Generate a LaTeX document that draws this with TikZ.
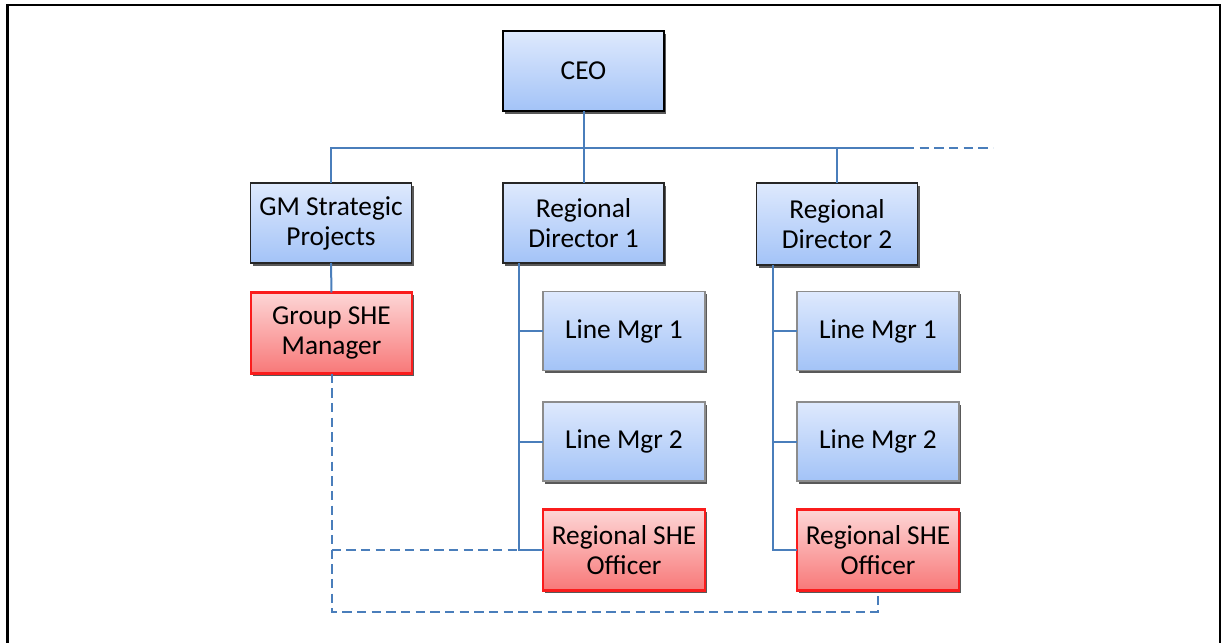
\documentclass[tikz,border=0pt]{standalone}
\usepackage{fontspec}
\setmainfont{Carlito}
\usetikzlibrary{shadows}
\definecolor{bluetop}{RGB}{222,233,253}
\definecolor{bluebot}{RGB}{163,195,247}
\definecolor{redtop}{RGB}{253,214,214}
\definecolor{redbot}{RGB}{248,120,120}
\definecolor{redline}{RGB}{250,28,28}
\definecolor{conn}{RGB}{74,126,187}
\tikzset{
  box/.style={rectangle, inner sep=0pt, outer sep=0pt, align=center,
    minimum width=120.75pt, minimum height=60pt,
    font=\fontsize{20.5}{22.5}\selectfont,
    drop shadow={shadow xshift=1.5pt, shadow yshift=-2pt, fill=black!65, opacity=1}},
  bluebox/.style={box, top color=bluetop, bottom color=bluebot, draw=black!85, line width=0.9pt},
  ceobox/.style={bluebox, line width=2pt, draw=black},
  mgrbox/.style={box, top color=bluetop, bottom color=bluebot, draw=black!45, line width=0.9pt},
  redbox/.style={box, top color=redtop, bottom color=redbot, draw=redline, line width=1.8pt},
  conline/.style={draw=conn, line width=1.5pt},
  dashline/.style={draw=conn, line width=1.5pt, dash pattern=on 7pt off 4pt},
  frame/.style={draw=black, line width=1.6pt}
}
\begin{document}
\begin{tikzpicture}[x=0.75pt, y=-0.75pt]
\useasboundingbox (0,0) rectangle (1229,643);
\draw[frame] (7.5,650) -- (7.5,5) -- (1220,5) -- (1220,650);

\node[ceobox] (ceo) at (583.5,71) {CEO};
\node[bluebox] (gm) at (331,223) {GM Strategic\\Projects};
\node[bluebox] (rd1) at (583.5,223) {Regional\\Director 1};
\node[bluebox, minimum height=61.5pt] (rd2) at (837,224) {Regional\\Director 2};
\node[redbox, minimum height=60.75pt] (gsm) at (331.5,333) {Group SHE\\Manager};
\node[mgrbox, minimum width=121.5pt, minimum height=59.25pt] (lm1a) at (624,331) {Line Mgr 1};
\node[mgrbox, minimum width=121.5pt, minimum height=59.25pt] (lm2a) at (624,441.5) {Line Mgr 2};
\node[redbox, minimum width=121.5pt, minimum height=60.75pt] (rsoa) at (624,550) {Regional SHE\\Officer};
\node[mgrbox, minimum width=121.5pt, minimum height=59.25pt] (lm1b) at (878,331) {Line Mgr 1};
\node[mgrbox, minimum width=121.5pt, minimum height=59.25pt] (lm2b) at (878,441.5) {Line Mgr 2};
\node[redbox, minimum width=121.5pt, minimum height=60.75pt] (rsob) at (878,550) {Regional SHE\\Officer};

\coordinate (bus) at (0,148);
\coordinate (busend) at (905,148);
\coordinate (dashend) at (993,148);
\coordinate (sp1) at (519,0);
\coordinate (sp2) at (773,0);
\coordinate (low) at (0,612);

% top bus
\draw[conline] (ceo.south) -- (rd1.north);
\draw[conline] (gm.north) |- (busend);
\draw[dashline] (busend) -- (dashend);
\draw[conline] (rd2.north) -- (rd2.north |- bus);
\draw[conline] (gm.south) -- (gsm.north);

% spines
\draw[conline] (rd1.south -| sp1) |- (rsoa.west);
\draw[conline] (sp1 |- lm1a.west) -- (lm1a.west);
\draw[conline] (sp1 |- lm2a.west) -- (lm2a.west);
\draw[conline] (rd2.south -| sp2) |- (rsob.west);
\draw[conline] (sp2 |- lm1b.west) -- (lm1b.west);
\draw[conline] (sp2 |- lm2b.west) -- (lm2b.west);

% dotted-line reporting
\draw[dashline] (gsm.south) -- (gsm.south |- low) -- (rsob.south |- low) -- (rsob.south);
\draw[dashline] (gsm.south |- rsoa.west) -- (sp1 |- rsoa.west);
\end{tikzpicture}
\end{document}
